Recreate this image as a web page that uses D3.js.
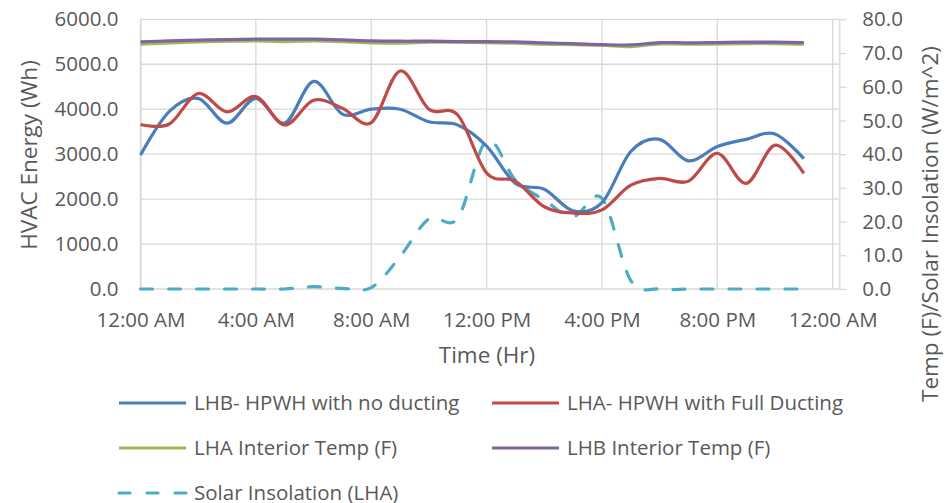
<!DOCTYPE html>
<html>
<head>
<meta charset="utf-8">
<script src="https://cdn.jsdelivr.net/npm/d3@7"></script>
<style>
  html, body { margin: 0; padding: 0; background: #fff; }
  svg { display: block; }
  text { font-family: "Open Sans", "Noto Sans", sans-serif; fill: #595959; }
</style>
</head>
<body>
<svg id="chart" width="949" height="503"></svg>
<script>
// Hour of day for each reading (0 = midnight)
const hours = d3.range(0, 24);

// HVAC energy (Wh), left axis
const lhbEnergy = [2980, 3950, 4240, 3690, 4240, 3690, 4620, 3890, 4000, 4000, 3720, 3650,
                   3180, 2350, 2220, 1740, 1920, 3060, 3330, 2850, 3170, 3330, 3450, 2900];
const lhaEnergy = [3660, 3670, 4350, 3940, 4280, 3650, 4200, 4020, 3700, 4850, 4000, 3870,
                   2580, 2400, 1830, 1690, 1760, 2310, 2460, 2400, 3020, 2350, 3200, 2570];

// Interior temperatures (F) and solar insolation (W/m^2), right axis
const lhaTemp = [72.6, 73.0, 73.3, 73.5, 73.6, 73.4, 73.6, 73.4, 73.0, 72.9, 73.2, 73.2,
                 73.1, 72.9, 72.6, 72.5, 72.3, 71.9, 72.7, 72.6, 72.7, 72.8, 72.8, 72.6];
const lhbTemp = [73.3, 73.6, 73.8, 74.0, 74.1, 74.1, 74.1, 73.9, 73.6, 73.5, 73.5, 73.4,
                 73.4, 73.3, 73.0, 72.8, 72.5, 72.4, 73.1, 73.0, 73.1, 73.2, 73.2, 73.1];
const solar = [0, 0, 0, 0, 0, 0, 0.7, 0.2, 0.4, 9.6, 20.8, 21.0,
               44.0, 32.3, 26.4, 21.5, 26.9, 2.5, 0, 0, 0, 0, 0, 0];

const xTickHours = [0, 4, 8, 12, 16, 20, 24];
const xTickLabels = ["12:00 AM", "4:00 AM", "8:00 AM", "12:00 PM", "4:00 PM", "8:00 PM", "12:00 AM"];
const leftTicks = [0, 1000, 2000, 3000, 4000, 5000, 6000];
const rightTicks = [0, 10, 20, 30, 40, 50, 60, 70, 80];

const seriesNames = ["LHB- HPWH with no ducting", "LHA- HPWH with Full Ducting",
                     "LHA Interior Temp (F)", "LHB Interior Temp (F)", "Solar Insolation (LHA)"];
const seriesColors = ["#4A7EBB", "#BE4B48", "#9BBB59", "#8064A2", "#4BACC6"];

const svg = d3.select("#chart");
const plot = { left: 140.5, right: 839.3, top: 19.3, bottom: 289 };

const x = d3.scaleLinear().domain([0, 24]).range([plot.left, 832.7]);
const yL = d3.scaleLinear().domain([0, 6000]).range([plot.bottom, plot.top]);
const yR = d3.scaleLinear().domain([0, 80]).range([plot.bottom, plot.top]);

const grid = "#D9D9D9";
const tickFont = "20.5px";
const titleFont = "22.5px";

// Horizontal gridlines from the energy axis
svg.append("g").selectAll("line").data(leftTicks).join("line")
  .attr("x1", plot.left).attr("x2", plot.right)
  .attr("y1", d => yL(d)).attr("y2", d => yL(d))
  .attr("stroke", grid).attr("stroke-width", 1.3);

// Vertical gridlines every four hours
svg.append("g").selectAll("line").data(xTickHours).join("line")
  .attr("x1", d => x(d)).attr("x2", d => x(d))
  .attr("y1", plot.top).attr("y2", plot.bottom)
  .attr("stroke", grid).attr("stroke-width", 1.3);

// Left axis labels
const leftAxis = svg.append("g").attr("transform", `translate(${plot.left},0)`)
  .call(d3.axisLeft(yL).tickValues(leftTicks).tickFormat(d3.format(".1f")).tickSize(0).tickPadding(22));
leftAxis.select(".domain").attr("stroke", grid).attr("stroke-width", 1.3);
leftAxis.selectAll("text").style("font-size", tickFont).attr("fill", "#595959");

// Right axis with outward ticks
const rightAxis = svg.append("g").attr("transform", `translate(${plot.right},0)`)
  .call(d3.axisRight(yR).tickValues(rightTicks).tickFormat(d3.format(".1f")).tickSizeOuter(0).tickSizeInner(7).tickPadding(16));
rightAxis.select(".domain").attr("stroke", grid).attr("stroke-width", 1.3);
rightAxis.selectAll("line").attr("stroke", grid).attr("stroke-width", 1.3);
rightAxis.selectAll("text").style("font-size", tickFont).attr("fill", "#595959");

// Bottom axis labels
const bottomAxis = svg.append("g").attr("transform", `translate(0,${plot.bottom})`)
  .call(d3.axisBottom(x).tickValues(xTickHours).tickFormat((d, i) => xTickLabels[i]).tickSize(0).tickPadding(23));
bottomAxis.select(".domain").remove();
bottomAxis.selectAll("text").style("font-size", tickFont).attr("fill", "#595959");

// Axis titles
svg.append("text").attr("x", 487).attr("y", 363).attr("text-anchor", "middle")
  .style("font-size", titleFont).text("Time (Hr)");
svg.append("text").attr("transform", "translate(37,155) rotate(-90)").attr("text-anchor", "middle")
  .style("font-size", titleFont).text("HVAC Energy (Wh)");
svg.append("text").attr("transform", "translate(938,224) rotate(-90)").attr("text-anchor", "middle")
  .style("font-size", titleFont).text("Temp (F)/Solar Insolation (W/m^2)");

// Smoothed series lines
const curve = d3.curveCardinal.tension(0);
const lineL = d3.line().x((d, i) => x(hours[i])).y(d => yL(d)).curve(curve);
const lineR = d3.line().x((d, i) => x(hours[i])).y(d => yR(d)).curve(curve);

const series = [
  { values: lhaTemp, line: lineR, color: seriesColors[2], dash: null },
  { values: lhbTemp, line: lineR, color: seriesColors[3], dash: null },
  { values: solar, line: lineR, color: seriesColors[4], dash: "12,16" },
  { values: lhbEnergy, line: lineL, color: seriesColors[0], dash: null },
  { values: lhaEnergy, line: lineL, color: seriesColors[1], dash: null }
];
series.forEach(s => {
  svg.append("path").attr("d", s.line(s.values))
    .attr("fill", "none").attr("stroke", s.color).attr("stroke-width", 3.2)
    .attr("stroke-linecap", s.dash ? "round" : "butt")
    .attr("stroke-dasharray", s.dash);
});

// Legend
const legendItems = [
  { name: seriesNames[0], color: seriesColors[0], x: 117, y: 403, dash: null },
  { name: seriesNames[1], color: seriesColors[1], x: 490, y: 403, dash: null },
  { name: seriesNames[2], color: seriesColors[2], x: 117, y: 448, dash: null },
  { name: seriesNames[3], color: seriesColors[3], x: 490, y: 448, dash: null },
  { name: seriesNames[4], color: seriesColors[4], x: 117, y: 493, dash: "11,17" }
];
const lg = svg.append("g").selectAll("g").data(legendItems).join("g")
  .attr("transform", d => `translate(${d.x},${d.y})`);
lg.append("line").attr("x1", 2).attr("x2", 69).attr("y1", 0).attr("y2", 0)
  .attr("stroke", d => d.color).attr("stroke-width", 3.2)
  .attr("stroke-linecap", d => d.dash ? "round" : "butt")
  .attr("stroke-dasharray", d => d.dash);
lg.append("text").attr("x", 77).attr("y", 0).attr("dy", "0.36em")
  .style("font-size", tickFont).text(d => d.name);
</script>
</body>
</html>
